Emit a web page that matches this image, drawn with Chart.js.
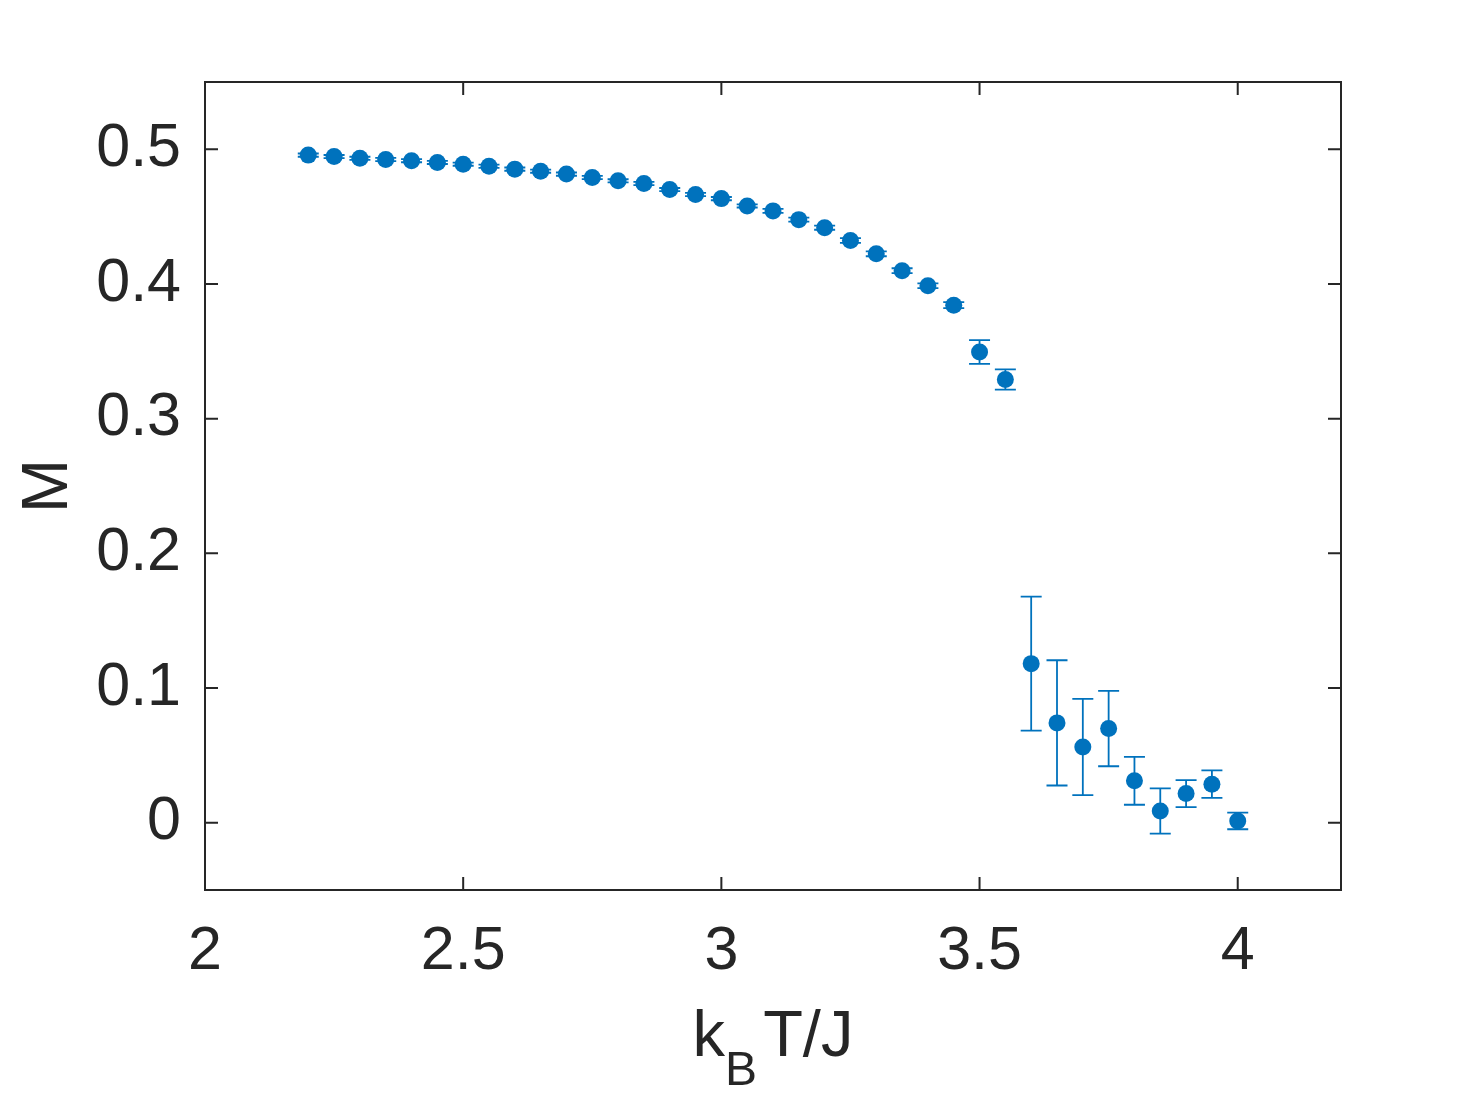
<!DOCTYPE html>
<html>
<head>
<meta charset="utf-8">
<script src="https://cdn.jsdelivr.net/npm/chart.js@4.4.1/dist/chart.umd.min.js"></script>
<style>
  html, body { margin: 0; padding: 0; background: #ffffff; }
  #wrap { width: 1480px; height: 1100px; }
</style>
</head>
<body>
<div id="wrap"><canvas id="c" width="1480" height="1100"></canvas></div>
<script>
// ---- data ----
const temperatures = [2.2, 2.25, 2.3, 2.35, 2.4, 2.45, 2.5, 2.55, 2.6, 2.65, 2.7, 2.75, 2.8, 2.85, 2.9,
  2.95, 3.0, 3.05, 3.1, 3.15, 3.2, 3.25, 3.3, 3.35, 3.4, 3.45, 3.5, 3.55,
  3.6, 3.65, 3.7, 3.75, 3.8, 3.85, 3.9, 3.95, 4.0];
const magnetization = [0.4957, 0.4946, 0.4933, 0.4925, 0.4916, 0.4903, 0.4890, 0.4875, 0.4853, 0.4838,
  0.4816, 0.4791, 0.4766, 0.4746, 0.4701, 0.4664, 0.4634, 0.4580, 0.4543, 0.4478,
  0.4418, 0.4323, 0.4224, 0.4099, 0.3987, 0.3843, 0.3495, 0.3291,
  0.1181, 0.0741, 0.0562, 0.0699, 0.0311, 0.0087, 0.0216, 0.0286, 0.0013];
const errors = [0.0012, 0.0012, 0.0012, 0.0012, 0.0012, 0.0012, 0.0012, 0.0012, 0.0012, 0.0012,
  0.0012, 0.0012, 0.0012, 0.0012, 0.0012, 0.0012, 0.0012, 0.0012, 0.0015, 0.0015,
  0.0015, 0.0018, 0.0018, 0.0018, 0.0018, 0.0022, 0.0088, 0.0075,
  0.0498, 0.0465, 0.0357, 0.028, 0.0178, 0.0168, 0.0100, 0.0102, 0.0062];
const xTickValues = [2, 2.5, 3, 3.5, 4];
const yTickValues = [0, 0.1, 0.2, 0.3, 0.4, 0.5];
const xTitleMain = 'k';
const xTitleSub = 'B';
const xTitleRest = 'T/J';
const yTitle = 'M';

const BLUE = '#0072BD';
const INK = '#262626';
const FONT = '"Liberation Sans", Arial, Helvetica, sans-serif';

const points = temperatures.map((t, i) => ({ x: t, y: magnetization[i] }));

const errorBarPlugin = {
  id: 'errorBars',
  beforeDatasetsDraw(chart) {
    const { ctx, scales: { x, y } } = chart;
    ctx.save();
    ctx.strokeStyle = BLUE;
    ctx.lineWidth = 1.8;
    const cap = 10.5;
    temperatures.forEach((t, i) => {
      const px = x.getPixelForValue(t);
      const yTop = y.getPixelForValue(magnetization[i] + errors[i]);
      const yBot = y.getPixelForValue(magnetization[i] - errors[i]);
      ctx.beginPath();
      ctx.moveTo(px, yTop); ctx.lineTo(px, yBot);
      ctx.moveTo(px - cap, yTop); ctx.lineTo(px + cap, yTop);
      ctx.moveTo(px - cap, yBot); ctx.lineTo(px + cap, yBot);
      ctx.stroke();
    });
    ctx.restore();
  }
};

const framePlugin = {
  id: 'frame',
  afterDatasetsDraw(chart) {
    const { ctx, chartArea: a, scales: { x, y } } = chart;
    ctx.save();
    ctx.strokeStyle = INK;
    ctx.lineWidth = 2;
    ctx.strokeRect(a.left, a.top, a.right - a.left, a.bottom - a.top);
    const tl = 13;
    ctx.beginPath();
    xTickValues.forEach(v => {
      const px = x.getPixelForValue(v);
      ctx.moveTo(px, a.bottom); ctx.lineTo(px, a.bottom - tl);
      ctx.moveTo(px, a.top); ctx.lineTo(px, a.top + tl);
    });
    yTickValues.forEach(v => {
      const py = y.getPixelForValue(v);
      ctx.moveTo(a.left, py); ctx.lineTo(a.left + tl, py);
      ctx.moveTo(a.right, py); ctx.lineTo(a.right - tl, py);
    });
    ctx.stroke();

    // axis titles
    const big = '65px ' + FONT;
    const small = '48px ' + FONT;
    ctx.fillStyle = INK;
    ctx.textBaseline = 'alphabetic';
    ctx.font = big;
    const wMain = ctx.measureText(xTitleMain).width;
    ctx.font = small;
    const wSub = ctx.measureText(xTitleSub).width;
    ctx.font = big;
    const wRest = ctx.measureText(xTitleRest).width;
    const gap = 6;
    const total = wMain + wSub + wRest + gap;
    let sx = (a.left + a.right) / 2 - total / 2;
    const base = 1056;
    ctx.textAlign = 'left';
    ctx.fillText(xTitleMain, sx, base);
    sx += wMain;
    ctx.font = small;
    ctx.fillText(xTitleSub, sx, base + 29);
    sx += wSub + gap;
    ctx.font = big;
    ctx.fillText(xTitleRest, sx, base);

    ctx.translate(67, (a.top + a.bottom) / 2);
    ctx.rotate(-Math.PI / 2);
    ctx.textAlign = 'center';
    ctx.fillText(yTitle, 0, 0);
    ctx.restore();
  }
};

new Chart(document.getElementById('c'), {
  type: 'scatter',
  data: {
    datasets: [{
      data: points,
      backgroundColor: BLUE,
      borderColor: BLUE,
      borderWidth: 0,
      pointRadius: 8.5,
      pointHoverRadius: 8.5
    }]
  },
  options: {
    responsive: false,
    animation: false,
    devicePixelRatio: 1,
    layout: { padding: { top: 82, right: 139, left: 0, bottom: 0 } },
    plugins: { legend: { display: false }, tooltip: { enabled: false } },
    scales: {
      x: {
        type: 'linear',
        min: 2, max: 4.2,
        grid: { display: false, drawTicks: false },
        border: { display: false },
        afterBuildTicks: s => { s.ticks = xTickValues.map(v => ({ value: v })); },
        afterFit: s => { s.height = 210; },
        ticks: {
          color: INK,
          font: { family: FONT, size: 61 },
          padding: 26,
          maxRotation: 0,
          autoSkip: false,
          callback: v => String(v)
        }
      },
      y: {
        type: 'linear',
        min: -0.05, max: 0.55,
        grid: { display: false, drawTicks: false },
        border: { display: false },
        afterBuildTicks: s => { s.ticks = yTickValues.map(v => ({ value: v })); },
        afterFit: s => { s.width = 205; },
        ticks: {
          color: INK,
          font: { family: FONT, size: 61 },
          padding: 24,
          autoSkip: false,
          callback: v => String(v)
        }
      }
    }
  },
  plugins: [errorBarPlugin, framePlugin]
});
</script>
</body>
</html>
